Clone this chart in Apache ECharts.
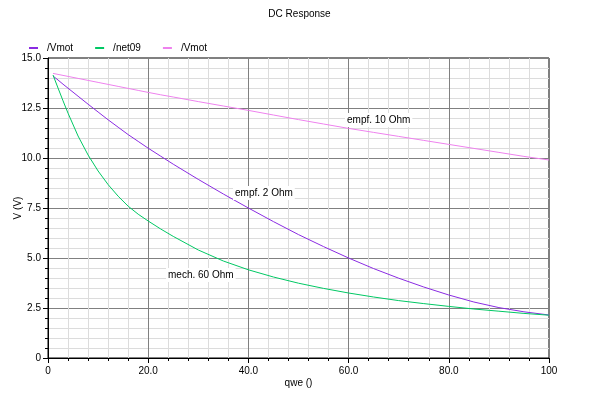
<!DOCTYPE html>
<html>
<head>
<meta charset="utf-8">
<script src="https://cdn.jsdelivr.net/npm/echarts@6/dist/echarts.min.js"></script>
<style>
html,body{margin:0;padding:0;background:#fff;}
#chart{width:599px;height:399px;}
</style>
</head>
<body>
<div id="chart"></div>
<script>
// sweep values (qwe)
var xs = [1,2,3,4,6,8,10,12,14,16,18,20,22.5,25,30,35,40,45,50,55,60,65,70,75,80,85,90,95,100];
// empf. 2 Ohm
var vmot2 = [14.1,13.9,13.69,13.49,13.09,12.69,12.3,11.91,11.54,11.17,10.83,10.49,10.09,9.69,8.93,8.2,7.5,6.82,6.17,5.57,5.0,4.47,3.99,3.55,3.15,2.8,2.52,2.31,2.15];
// mech. 60 Ohm
var net09 = [14.15,13.5,12.86,12.24,11.1,10.15,9.35,8.67,8.09,7.59,7.19,6.85,6.45,6.08,5.4,4.85,4.41,4.05,3.74,3.48,3.25,3.05,2.87,2.72,2.58,2.45,2.34,2.23,2.14];
// empf. 10 Ohm
var vmot10 = [14.23,14.18,14.13,14.08,13.98,13.88,13.78,13.68,13.58,13.48,13.38,13.28,13.16,13.05,12.82,12.6,12.38,12.15,11.92,11.7,11.48,11.28,11.08,10.88,10.68,10.48,10.28,10.08,9.9];

var xLabels = {0:'0',20:'20.0',40:'40.0',60:'60.0',80:'80.0',100:'100'};
var yLabels = {0:'0',2.5:'2.5',5:'5.0',7.5:'7.5',10:'10.0',12.5:'12.5',15:'15.0'};

var colors = ['#8a2be2', '#00c864', '#ee82ee'];
var font = 'Liberation Sans';

function pairs(ys){
	var out = [];
	for(var i=0;i<xs.length;i++){ out.push([xs[i], ys[i]]); }
	return out;
}

function note(txt, left, top){
	return {type: 'text', left: left, top: top, z: 100,
		style: {text: txt, fontSize: 10, fontFamily: font, fill: '#000', backgroundColor: '#fff', padding: [2,2]}};
}

function axisCommon(){
	return {
		nameLocation: 'middle', nameMoveOverlap: false,
		nameTextStyle: {fontSize: 10, color: '#000', fontFamily: font},
		axisLine: {lineStyle: {color: '#000'}},
		axisTick: {length: 5, lineStyle: {color: '#000'}},
		minorTick: {show: true, splitNumber: 5, length: 3, lineStyle: {color: '#000'}},
		splitLine: {lineStyle: {color: '#808080'}},
		minorSplitLine: {show: true, lineStyle: {color: '#dcdcdc'}}
	};
}

function lineSeries(name, data, color){
	return {name: name, type: 'line', data: pairs(data), showSymbol: false, smooth: false,
		itemStyle: {color: color}, lineStyle: {width: 1, color: color}};
}

var chart = echarts.init(document.getElementById('chart'));
var xAxis = axisCommon();
xAxis.type = 'value'; xAxis.min = 0; xAxis.max = 100; xAxis.interval = 20;
xAxis.name = 'qwe ()'; xAxis.nameGap = 20;
xAxis.axisLabel = {fontSize: 10, color: '#000', fontFamily: font, margin: 8,
	formatter: function(v){ return xLabels[v] !== undefined ? xLabels[v] : ''; }};
var yAxis = axisCommon();
yAxis.type = 'value'; yAxis.min = 0; yAxis.max = 15; yAxis.interval = 2.5;
yAxis.name = 'V (V)'; yAxis.nameGap = 25;
yAxis.axisLabel = {fontSize: 10, color: '#000', fontFamily: font, margin: 7,
	formatter: function(v){ return yLabels[v] !== undefined ? yLabels[v] : ''; }};

var option = {
	animation: false,
	title: {
		text: 'DC Response', left: 'center', top: 4,
		textStyle: {fontSize: 10, fontWeight: 'normal', color: '#000', fontFamily: font}
	},
	legend: {
		left: 24, top: 38, icon: 'rect', itemWidth: 9, itemHeight: 2, itemGap: 22,
		textStyle: {fontSize: 10, color: '#000', fontFamily: font, padding: [0,0,0,4]},
		data: [
			{name: '/Vmot', itemStyle: {color: colors[0]}},
			{name: '/net09', itemStyle: {color: colors[1]}},
			{name: '/Vmot ', itemStyle: {color: colors[2]}}
		]
	},
	grid: {left: 48, right: 50, top: 58, bottom: 41, containLabel: false, outerBoundsMode: 'none',
		show: true, borderColor: '#000', borderWidth: 1},
	xAxis: xAxis,
	yAxis: yAxis,
	series: [
		lineSeries('/Vmot', vmot2, colors[0]),
		lineSeries('/net09', net09, colors[1]),
		lineSeries('/Vmot ', vmot10, colors[2])
	],
	graphic: [
		note('empf. 10 Ohm', 345, 113),
		note('empf. 2 Ohm', 233, 186),
		note('mech. 60 Ohm', 166, 268)
	]
};
chart.setOption(option);
</script>
</body>
</html>
